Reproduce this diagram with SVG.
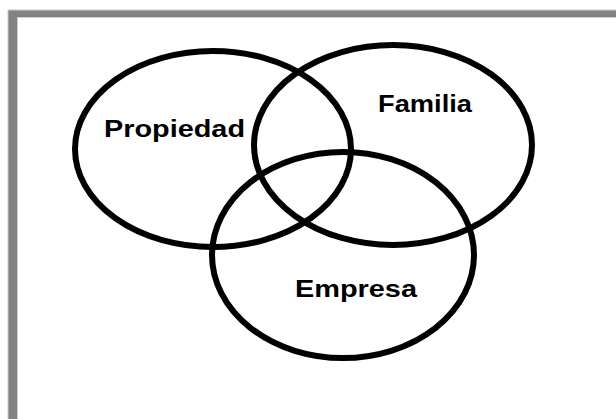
<svg xmlns="http://www.w3.org/2000/svg" width="616" height="419" viewBox="0 0 616 419">
<style>
.c{fill:none;stroke:#000;stroke-width:6}
.t{font-family:"Liberation Sans",Arial,sans-serif;font-weight:bold;font-size:23px;fill:#000}
</style>
<rect width="616" height="419" fill="#fff"/>
<g id="frame">
<path d="M8,10 H616 V17.5 H17 V419 H8 Z" fill="#828282"/>
<path d="M8,10 H616 M8,10 V419" stroke="#c8c8c8" stroke-width="1" fill="none"/>
<path d="M17.5,419 V17.5 H616" stroke="#d0d0d0" stroke-width="1" fill="none"/>
</g>
<g id="propiedad">
<ellipse class="c" cx="213" cy="149" rx="138" ry="98"/>
<text class="t" x="104" y="137" textLength="141" lengthAdjust="spacingAndGlyphs">Propiedad</text>
</g>
<g id="familia">
<ellipse class="c" cx="393" cy="145" rx="139" ry="100"/>
<text class="t" x="378" y="112" textLength="94" lengthAdjust="spacingAndGlyphs">Familia</text>
</g>
<g id="empresa">
<ellipse class="c" cx="343" cy="255" rx="131" ry="103"/>
<text class="t" x="295" y="297" font-size="22" textLength="122" lengthAdjust="spacingAndGlyphs">Empresa</text>
</g>
<g id="connectors"></g>
</svg>
